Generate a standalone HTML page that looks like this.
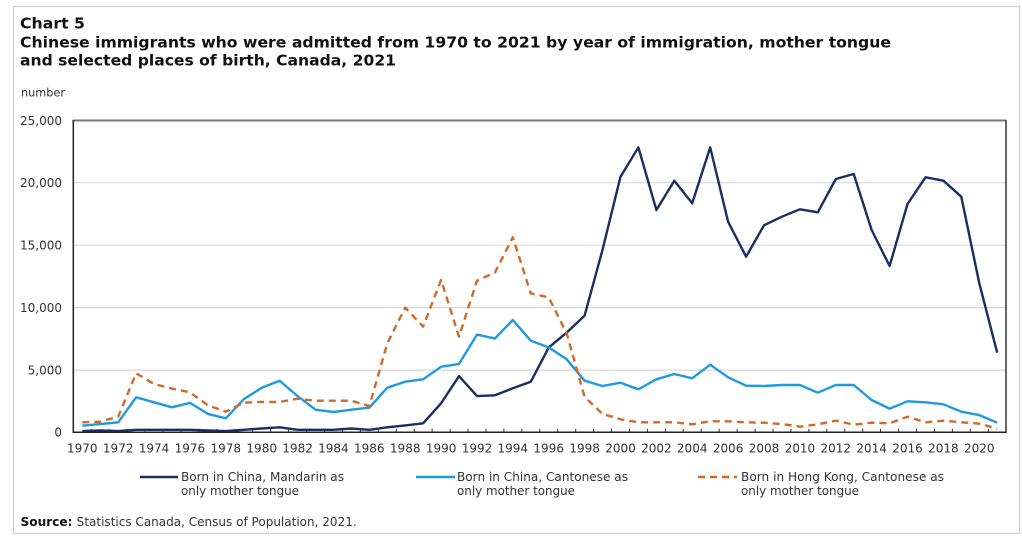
<!DOCTYPE html>
<html>
<head>
<meta charset="utf-8">
<style>
html,body{margin:0;padding:0;background:#fff;}
svg{display:block;}
text{font-family:"DejaVu Sans","Liberation Sans",sans-serif;}
</style>
</head>
<body>
<svg width="1022" height="539" viewBox="0 0 1022 539" xmlns="http://www.w3.org/2000/svg">
<rect x="0" y="0" width="1022" height="539" fill="#fff"/>
<rect x="13.5" y="6.5" width="1006" height="527" fill="none" stroke="#cfcfcf" stroke-width="1.2"/>

<!-- Title -->
<text x="20" y="28.3" font-size="15" font-weight="bold" fill="#111" textLength="65" lengthAdjust="spacingAndGlyphs">Chart 5</text>
<text x="20" y="47.7" font-size="15" font-weight="bold" fill="#111" textLength="871" lengthAdjust="spacingAndGlyphs">Chinese immigrants who were admitted from 1970 to 2021 by year of immigration,  mother tongue</text>
<text x="20" y="65.5" font-size="15" font-weight="bold" fill="#111" textLength="376" lengthAdjust="spacingAndGlyphs">and selected places of birth, Canada, 2021</text>

<text x="21" y="96.7" font-size="11.5" fill="#333" textLength="44" lengthAdjust="spacingAndGlyphs">number</text>

<!-- gridlines -->
<g stroke="#d9d9d9" stroke-width="1.2">
<line x1="73.3" y1="182.7" x2="1006" y2="182.7"/>
<line x1="73.3" y1="245.2" x2="1006" y2="245.2"/>
<line x1="73.3" y1="307.6" x2="1006" y2="307.6"/>
<line x1="73.3" y1="370.1" x2="1006" y2="370.1"/>
</g>

<!-- y labels -->
<g font-size="12" fill="#333" text-anchor="end">
<text x="62" y="124.8">25,000</text>
<text x="62" y="187.2">20,000</text>
<text x="62" y="249.7">15,000</text>
<text x="62" y="312.1">10,000</text>
<text x="62" y="374.6">5,000</text>
<text x="62" y="436.6">0</text>
</g>

<!-- ticks -->
<g stroke="#333" stroke-width="1">
<line x1="91.2" y1="428.8" x2="91.2" y2="432"/><line x1="109.2" y1="428.8" x2="109.2" y2="432"/><line x1="127.1" y1="428.8" x2="127.1" y2="432"/><line x1="145.1" y1="428.8" x2="145.1" y2="432"/><line x1="163.0" y1="428.8" x2="163.0" y2="432"/><line x1="181.0" y1="428.8" x2="181.0" y2="432"/><line x1="198.9" y1="428.8" x2="198.9" y2="432"/><line x1="216.8" y1="428.8" x2="216.8" y2="432"/><line x1="234.8" y1="428.8" x2="234.8" y2="432"/><line x1="252.7" y1="428.8" x2="252.7" y2="432"/><line x1="270.7" y1="428.8" x2="270.7" y2="432"/><line x1="288.6" y1="428.8" x2="288.6" y2="432"/><line x1="306.6" y1="428.8" x2="306.6" y2="432"/><line x1="324.5" y1="428.8" x2="324.5" y2="432"/><line x1="342.4" y1="428.8" x2="342.4" y2="432"/><line x1="360.4" y1="428.8" x2="360.4" y2="432"/><line x1="378.3" y1="428.8" x2="378.3" y2="432"/><line x1="396.3" y1="428.8" x2="396.3" y2="432"/><line x1="414.2" y1="428.8" x2="414.2" y2="432"/><line x1="432.1" y1="428.8" x2="432.1" y2="432"/><line x1="450.1" y1="428.8" x2="450.1" y2="432"/><line x1="468.0" y1="428.8" x2="468.0" y2="432"/><line x1="486.0" y1="428.8" x2="486.0" y2="432"/><line x1="503.9" y1="428.8" x2="503.9" y2="432"/><line x1="521.8" y1="428.8" x2="521.8" y2="432"/><line x1="539.8" y1="428.8" x2="539.8" y2="432"/><line x1="557.7" y1="428.8" x2="557.7" y2="432"/><line x1="575.7" y1="428.8" x2="575.7" y2="432"/><line x1="593.6" y1="428.8" x2="593.6" y2="432"/><line x1="611.5" y1="428.8" x2="611.5" y2="432"/><line x1="629.5" y1="428.8" x2="629.5" y2="432"/><line x1="647.4" y1="428.8" x2="647.4" y2="432"/><line x1="665.4" y1="428.8" x2="665.4" y2="432"/><line x1="683.3" y1="428.8" x2="683.3" y2="432"/><line x1="701.2" y1="428.8" x2="701.2" y2="432"/><line x1="719.2" y1="428.8" x2="719.2" y2="432"/><line x1="737.1" y1="428.8" x2="737.1" y2="432"/><line x1="755.1" y1="428.8" x2="755.1" y2="432"/><line x1="773.0" y1="428.8" x2="773.0" y2="432"/><line x1="790.9" y1="428.8" x2="790.9" y2="432"/><line x1="808.9" y1="428.8" x2="808.9" y2="432"/><line x1="826.8" y1="428.8" x2="826.8" y2="432"/><line x1="844.8" y1="428.8" x2="844.8" y2="432"/><line x1="862.7" y1="428.8" x2="862.7" y2="432"/><line x1="880.6" y1="428.8" x2="880.6" y2="432"/><line x1="898.6" y1="428.8" x2="898.6" y2="432"/><line x1="916.5" y1="428.8" x2="916.5" y2="432"/><line x1="934.5" y1="428.8" x2="934.5" y2="432"/><line x1="952.4" y1="428.8" x2="952.4" y2="432"/><line x1="970.3" y1="428.8" x2="970.3" y2="432"/><line x1="988.3" y1="428.8" x2="988.3" y2="432"/>
</g>

<!-- series -->
<polyline fill="none" stroke="#1b2e63" stroke-width="2.4" stroke-linejoin="round" points="82.3,431.1 100.2,430.4 118.2,431.1 136.1,429.8 154.0,429.8 172.0,429.8 189.9,429.8 207.9,430.4 225.8,431.1 243.7,429.8 261.7,428.5 279.6,427.3 297.6,429.8 315.5,429.8 333.4,429.8 351.4,428.5 369.3,429.8 387.3,427.3 405.2,425.4 423.1,423.3 441.1,403.3 459.0,376.1 477.0,396.1 494.9,395.3 512.8,388.3 530.8,381.7 548.7,347.6 566.7,332.6 584.6,315.6 602.5,249.9 620.5,176.7 638.4,147.4 656.4,210.0 674.3,180.7 692.2,203.3 710.2,147.4 728.1,221.7 746.1,256.7 764.0,225.3 781.9,216.7 799.9,209.3 817.8,212.3 835.8,179.0 853.7,174.0 871.6,229.9 889.6,266.0 907.5,204.0 925.5,177.3 943.4,180.7 961.3,196.7 979.3,283.3 997.2,352.7"/>

<polyline fill="none" stroke="#1f9ae0" stroke-width="2.4" stroke-linejoin="round" points="82.3,425.7 100.2,424.1 118.2,422.3 136.1,397.3 154.0,402.3 172.0,407.3 189.9,402.9 207.9,413.9 225.8,418.3 243.7,399.3 261.7,387.7 279.6,380.7 297.6,396.1 315.5,409.7 333.4,412.0 351.4,409.7 369.3,407.7 387.3,387.7 405.2,381.7 423.1,379.3 441.1,366.7 459.0,364.0 477.0,334.6 494.9,338.6 512.8,320.0 530.8,340.7 548.7,347.4 566.7,359.3 584.6,380.7 602.5,386.0 620.5,382.7 638.4,389.3 656.4,379.3 674.3,374.0 692.2,378.3 710.2,364.7 728.1,377.3 746.1,385.7 764.0,386.0 781.9,385.0 799.9,385.0 817.8,392.7 835.8,385.0 853.7,385.0 871.6,400.0 889.6,408.7 907.5,401.3 925.5,402.3 943.4,404.3 961.3,411.7 979.3,415.1 997.2,422.7"/>

<polyline fill="none" stroke="#cf6a2a" stroke-width="2.4" stroke-dasharray="7,5" stroke-linejoin="round" points="82.3,422.3 100.2,421.7 118.2,416.7 136.1,373.3 154.0,384.0 172.0,388.6 189.9,392.3 207.9,405.3 225.8,411.7 243.7,402.7 261.7,401.9 279.6,401.9 297.6,398.7 315.5,400.7 333.4,400.7 351.4,400.7 369.3,406.1 387.3,343.4 405.2,307.6 423.1,326.6 441.1,280.0 459.0,336.7 477.0,280.6 494.9,272.6 512.8,237.3 530.8,293.4 548.7,297.4 566.7,333.4 584.6,396.9 602.5,413.9 620.5,419.3 638.4,422.3 656.4,422.3 674.3,422.3 692.2,424.3 710.2,421.3 728.1,421.3 746.1,422.3 764.0,422.7 781.9,424.1 799.9,426.7 817.8,424.3 835.8,420.7 853.7,424.7 871.6,422.7 889.6,423.3 907.5,416.7 925.5,422.3 943.4,420.7 961.3,422.3 979.3,423.7 997.2,428.7"/>

<!-- axes frame -->
<line x1="72.5" y1="120.5" x2="1006.5" y2="120.5" stroke="#777" stroke-width="2"/>
<line x1="1006" y1="120" x2="1006" y2="433" stroke="#333" stroke-width="1.5"/>
<line x1="73.3" y1="120" x2="73.3" y2="433" stroke="#222" stroke-width="1.5"/>
<line x1="72.5" y1="432.3" x2="1006.5" y2="432.3" stroke="#222" stroke-width="1.5"/>

<!-- x labels -->
<g font-size="12" fill="#333" text-anchor="middle">
<text x="82.3" y="452.5">1970</text><text x="118.2" y="452.5">1972</text><text x="154.0" y="452.5">1974</text><text x="189.9" y="452.5">1976</text><text x="225.8" y="452.5">1978</text><text x="261.7" y="452.5">1980</text><text x="297.6" y="452.5">1982</text><text x="333.4" y="452.5">1984</text><text x="369.3" y="452.5">1986</text><text x="405.2" y="452.5">1988</text><text x="441.1" y="452.5">1990</text><text x="477.0" y="452.5">1992</text><text x="512.8" y="452.5">1994</text><text x="548.7" y="452.5">1996</text><text x="584.6" y="452.5">1998</text><text x="620.5" y="452.5">2000</text><text x="656.4" y="452.5">2002</text><text x="692.2" y="452.5">2004</text><text x="728.1" y="452.5">2006</text><text x="764.0" y="452.5">2008</text><text x="799.9" y="452.5">2010</text><text x="835.8" y="452.5">2012</text><text x="871.6" y="452.5">2014</text><text x="907.5" y="452.5">2016</text><text x="943.4" y="452.5">2018</text><text x="979.3" y="452.5">2020</text>
</g>

<!-- legend -->
<line x1="140" y1="477" x2="178" y2="477" stroke="#1b2e63" stroke-width="2.4"/>
<text x="181" y="481.2" font-size="12" fill="#333" textLength="163" lengthAdjust="spacingAndGlyphs">Born in China, Mandarin as</text>
<text x="181" y="495.2" font-size="12" fill="#333" textLength="118" lengthAdjust="spacingAndGlyphs">only mother tongue</text>

<line x1="416" y1="477" x2="455" y2="477" stroke="#1f9ae0" stroke-width="2.4"/>
<text x="457" y="481.2" font-size="12" fill="#333" textLength="171" lengthAdjust="spacingAndGlyphs">Born in China, Cantonese as</text>
<text x="457" y="495.2" font-size="12" fill="#333" textLength="118" lengthAdjust="spacingAndGlyphs">only mother tongue</text>

<line x1="698" y1="477" x2="737" y2="477" stroke="#cf6a2a" stroke-width="2.4" stroke-dasharray="7,5"/>
<text x="741" y="481.2" font-size="12" fill="#333" textLength="203" lengthAdjust="spacingAndGlyphs">Born in Hong Kong, Cantonese as</text>
<text x="741" y="495.2" font-size="12" fill="#333" textLength="118" lengthAdjust="spacingAndGlyphs">only mother tongue</text>

<!-- source -->
<text x="20.5" y="526" font-size="12" font-weight="bold" fill="#111" textLength="52" lengthAdjust="spacingAndGlyphs">Source:</text>
<text x="76.7" y="526" font-size="12" fill="#333" textLength="280" lengthAdjust="spacingAndGlyphs">Statistics Canada, Census of Population, 2021.</text>
</svg>
</body>
</html>
